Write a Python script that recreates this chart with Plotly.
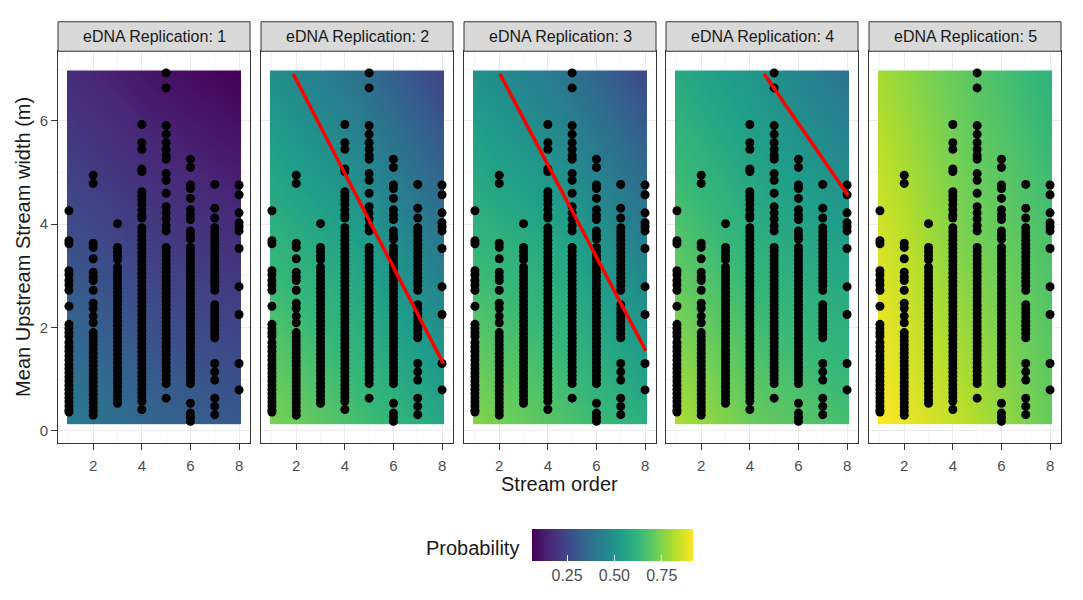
import plotly.graph_objects as go

# site widths (m) grouped by stream order
stream_orders = [1, 2, 3, 4, 5, 6, 7, 8]

order_1 = [4.26, 3.68, 3.62, 3.10, 3.02, 2.91, 2.82, 2.72, 2.41, 2.06, 1.98, 1.90,
           1.83, 1.71, 1.62, 1.54, 1.45, 1.37, 1.28, 1.20, 1.12, 1.04, 0.96, 0.88,
           0.80, 0.72, 0.64, 0.56, 0.48, 0.40, 0.36]
order_2 = [4.95, 4.79, 3.63, 3.55, 3.33, 3.07, 2.98, 2.91, 2.72, 2.47, 2.37, 2.22,
           2.09, 1.90, 1.82, 1.74, 1.66, 1.58, 1.50, 1.42, 1.34, 1.26, 1.18, 1.10,
           1.02, 0.94, 0.86, 0.78, 0.70, 0.62, 0.54, 0.46, 0.38, 0.30]
order_3 = [4.01, 3.55, 3.47, 3.39, 3.31, 3.16, 3.08, 3.00, 2.92, 2.84, 2.76, 2.68,
           2.60, 2.52, 2.44, 2.36, 2.28, 2.20, 2.12, 2.04, 1.96, 1.88, 1.80, 1.72,
           1.64, 1.56, 1.48, 1.40, 1.32, 1.24, 1.16, 1.08, 1.00, 0.92, 0.84, 0.76,
           0.68, 0.60, 0.53]
order_4 = [5.93, 5.58, 5.45, 5.07, 5.02, 4.63, 4.55, 4.47, 4.38, 4.28, 4.18, 4.12,
           3.93, 3.85, 3.77, 3.69, 3.61, 3.53, 3.45, 3.37, 3.29, 3.21, 3.13, 3.05,
           2.97, 2.89, 2.81, 2.73, 2.65, 2.57, 2.49, 2.41, 2.33, 2.25, 2.17, 2.09,
           2.01, 1.93, 1.85, 1.77, 1.69, 1.61, 1.53, 1.45, 1.37, 1.29, 1.21, 1.13,
           1.05, 0.97, 0.89, 0.81, 0.73, 0.65, 0.57, 0.41]
order_5 = [6.93, 6.64, 5.91, 5.74, 5.58, 5.45, 5.33, 5.26, 4.98, 4.85, 4.60, 4.34,
           4.22, 4.10, 3.97, 3.87, 3.55, 3.47, 3.39, 3.31, 3.23, 3.15, 3.07, 2.99,
           2.91, 2.83, 2.75, 2.67, 2.59, 2.51, 2.43, 2.35, 2.27, 2.19, 2.11, 2.03,
           1.95, 1.87, 1.79, 1.71, 1.63, 1.55, 1.47, 1.39, 1.31, 1.23, 1.15, 1.07,
           0.99, 0.91, 0.63]
order_6 = [5.26, 5.10, 4.76, 4.69, 4.50, 4.28, 4.18, 4.09, 3.87, 3.78, 3.71, 3.55,
           3.47, 3.39, 3.31, 3.23, 3.15, 3.07, 2.99, 2.91, 2.83, 2.75, 2.67, 2.59,
           2.51, 2.43, 2.35, 2.27, 2.19, 2.11, 2.03, 1.95, 1.87, 1.79, 1.71, 1.63,
           1.55, 1.47, 1.39, 1.31, 1.23, 1.15, 1.07, 0.99, 0.91, 0.53, 0.34, 0.26,
           0.18]
order_7 = [4.77, 4.31, 4.12, 3.93, 3.85, 3.77, 3.69, 3.61, 3.53, 3.45, 3.37, 3.29,
           3.21, 3.13, 3.05, 2.97, 2.89, 2.81, 2.72, 2.44, 2.36, 2.28, 2.20, 2.12,
           2.04, 1.96, 1.88, 1.80, 1.30, 1.14, 0.98, 0.63, 0.47, 0.31]
order_8 = [4.76, 4.57, 4.22, 4.03, 3.95, 3.87, 3.53, 2.79, 2.25, 1.30, 0.79]

widths_by_order = [order_1, order_2, order_3, order_4, order_5, order_6, order_7, order_8]

replications = [1, 2, 3, 4, 5]

# predicted probability surface on a coarse grid (rows: bottom, middle, top)
grid_x = [0.92, 4.5, 8.08]
grid_y = [0.12, 3.55, 6.98]
prob_rep1 = [[0.42, 0.34, 0.30], [0.28, 0.22, 0.185], [0.17, 0.11, 0.065]]
prob_rep2 = [[0.745, 0.66, 0.575], [0.62, 0.55, 0.405], [0.49, 0.38, 0.235]]
prob_rep3 = [[0.76, 0.68, 0.60], [0.63, 0.57, 0.43], [0.50, 0.40, 0.25]]
prob_rep4 = [[0.81, 0.71, 0.66], [0.69, 0.60, 0.55], [0.58, 0.50, 0.38]]
prob_rep5 = [[0.915, 0.83, 0.71], [0.87, 0.745, 0.67], [0.80, 0.70, 0.61]]
prob_grids = [prob_rep1, prob_rep2, prob_rep3, prob_rep4, prob_rep5]

# 50% boundary lines (none for replication 1 and 5)
boundary_x = [None, [1.88, 8.05], [2.03, 8.03], [4.59, 8.05], None]
boundary_y = [None, [6.91, 1.30], [6.91, 1.55], [6.91, 4.55], None]

# page has an 8px body margin, so the figure is that much smaller
OFF = 8
W, H = 1083 - OFF, 600 - OFF


def px(x):
    return (x - OFF) / W


def py(y):
    return 1 - (y - OFF) / H


panel_left = [58, 261, 464, 666, 869]
panel_w = 192
plot_top, plot_bottom = 52, 450
strip_top = 22

pts_x = [o for o, ys in zip(stream_orders, widths_by_order) for _ in ys]
pts_y = [v for ys in widths_by_order for v in ys]

fig = go.Figure()

for i, rep in enumerate(replications):
    sfx = '' if i == 0 else str(i + 1)
    fig.add_trace(go.Contour(
        x=grid_x, y=grid_y, z=prob_grids[i],
        colorscale='Viridis', zmin=0.065, zmax=0.915,
        contours=dict(coloring='heatmap', showlines=False),
        line=dict(width=0),
        showscale=(i == 0),
        colorbar=dict(
            orientation='h', x=px(612.5), xanchor='center',
            y=py(528), yanchor='top',
            lenmode='pixels', len=181, thickness=32,
            outlinewidth=0, tickvals=[0.25, 0.5, 0.75],
            ticktext=['0.25', '0.50', '0.75'],
            ticks='inside', ticklen=6, tickcolor='white',
            tickfont=dict(size=16, color='#4d4d4d'),
        ),
        hoverinfo='skip',
        xaxis='x' + sfx, yaxis='y' + sfx,
    ))
    fig.add_trace(go.Scatter(
        x=pts_x, y=pts_y, mode='markers',
        marker=dict(color='black', size=9),
        showlegend=False, xaxis='x' + sfx, yaxis='y' + sfx,
    ))
    if boundary_x[i] is not None:
        fig.add_trace(go.Scatter(
            x=boundary_x[i], y=boundary_y[i], mode='lines',
            line=dict(color='red', width=3.5),
            showlegend=False, xaxis='x' + sfx, yaxis='y' + sfx,
        ))

layout = dict(
    width=W, height=H,
    margin=dict(l=0, r=0, t=0, b=0),
    paper_bgcolor='white', plot_bgcolor='white',
    font=dict(family='Liberation Sans, Arial, sans-serif', color='#1a1a1a'),
    showlegend=False,
)

shapes = []
annotations = []
for i, rep in enumerate(replications):
    sfx = '' if i == 0 else str(i + 1)
    x0 = px(panel_left[i])
    x1 = px(panel_left[i] + panel_w)
    layout['xaxis' + sfx] = dict(
        domain=[x0, x1], range=[0.55, 8.45], anchor='y' + sfx,
        tickmode='linear', tick0=0, dtick=2,
        ticks='outside', ticklen=6, tickcolor='#333333',
        ticklabelstandoff=3,
        tickfont=dict(size=15, color='#4d4d4d'),
        showgrid=True, gridcolor='#ebebeb', gridwidth=1,
        minor=dict(dtick=1, showgrid=True, gridcolor='#f5f5f5', gridwidth=0.6),
        showline=True, linecolor='#333333', linewidth=1, mirror=True,
        zeroline=False,
    )
    layout['yaxis' + sfx] = dict(
        domain=[py(plot_bottom), py(plot_top)], range=[-0.23, 7.35],
        anchor='x' + sfx,
        tickmode='linear', tick0=0, dtick=2,
        ticks='outside' if i == 0 else '', ticklen=6, tickcolor='#333333',
        showticklabels=(i == 0),
        tickfont=dict(size=15, color='#4d4d4d'),
        showgrid=True, gridcolor='#ebebeb', gridwidth=1,
        minor=dict(dtick=1, showgrid=True, gridcolor='#f5f5f5', gridwidth=0.6),
        showline=True, linecolor='#333333', linewidth=1, mirror=True,
        zeroline=False,
    )
    # facet strip
    shapes.append(dict(
        type='rect', xref='paper', yref='paper',
        x0=x0, x1=x1, y0=py(plot_top), y1=py(strip_top),
        fillcolor='#d9d9d9', line=dict(color='#333333', width=1),
    ))
    annotations.append(dict(
        text=f'eDNA Replication: {rep}', xref='paper', yref='paper',
        x=(x0 + x1) / 2, y=py((strip_top + plot_top) / 2),
        showarrow=False, font=dict(size=16, color='#1a1a1a'),
        xanchor='center', yanchor='middle',
    ))

annotations.append(dict(
    text='Stream order', xref='paper', yref='paper',
    x=px(559.5), y=py(492), showarrow=False,
    font=dict(size=20, color='#1a1a1a'), xanchor='center', yanchor='middle',
))
annotations.append(dict(
    text='Mean Upstream Stream width (m)', xref='paper', yref='paper',
    x=px(23), y=py(251), showarrow=False, textangle=-90,
    font=dict(size=20, color='#1a1a1a'), xanchor='center', yanchor='middle',
))
annotations.append(dict(
    text='Probability', xref='paper', yref='paper',
    x=px(521), y=py(557), showarrow=False,
    font=dict(size=20, color='#1a1a1a'), xanchor='right', yanchor='middle',
))

layout['shapes'] = shapes
layout['annotations'] = annotations
fig.update_layout(**layout)

fig.write_html("out.html")
